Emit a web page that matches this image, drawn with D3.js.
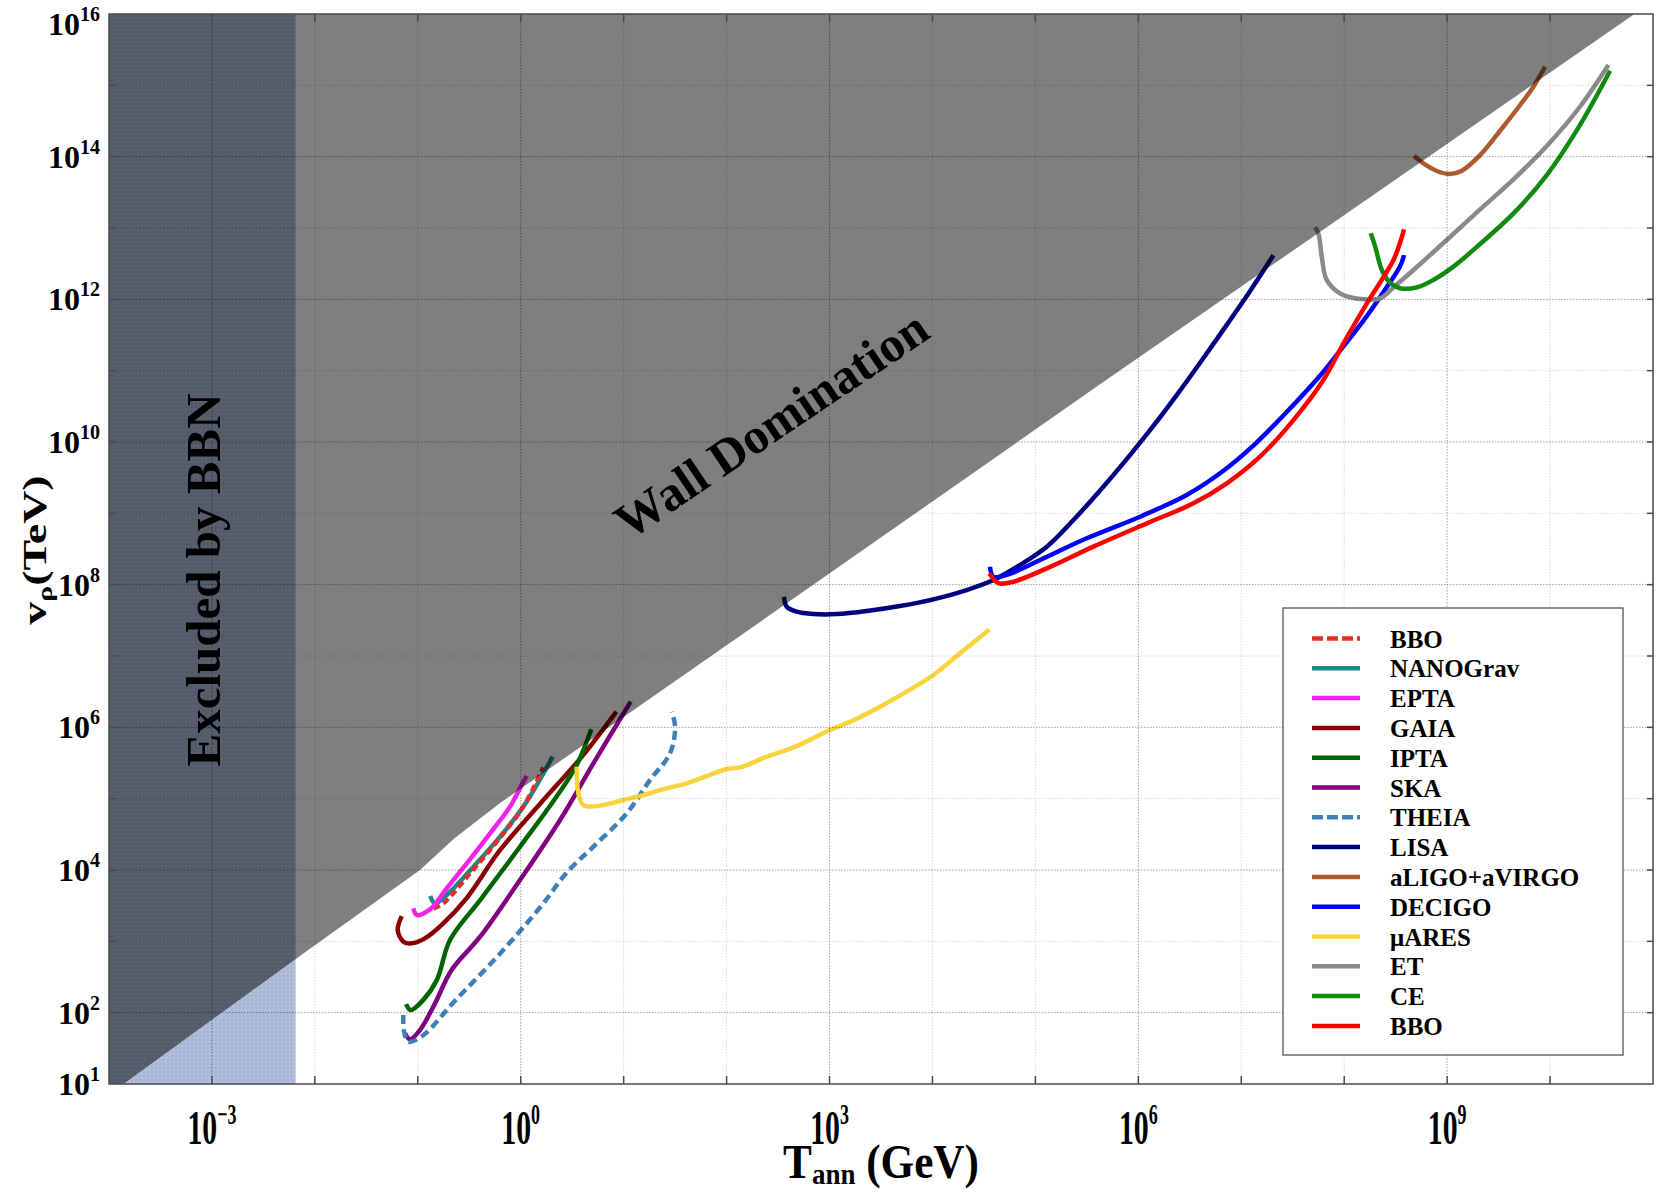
<!DOCTYPE html>
<html>
<head>
<meta charset="utf-8">
<script src="https://cdnjs.cloudflare.com/ajax/libs/d3/7.8.5/d3.min.js"></script>
<style>
  body { margin: 0; background: #fff; }
  svg text { font-family: "Liberation Serif", "Times New Roman", serif; font-weight: bold; fill: #000; }
</style>
</head>
<body>
<svg id="chart"></svg>
<script>
// detector sensitivity curves, [T_ann (GeV), v_rho (TeV)]
const nanograv = [[1.32e-1, 4.33e3], [1.47e-1, 3.41e3], [1.91e-1, 4.47e3], [3.47e-1, 1.11e4], [6.30e-1, 2.93e4], [1.14, 9.08e4], [2.04, 3.88e5]]
const bboDashed = [[1.42e-1, 2.90e3], [1.77e-1, 3.41e3], [3.21e-1, 8.97e3], [5.83e-1, 2.49e4], [1.06, 7.73e4], [1.66, 2.75e5]]
const epta = [[9.06e-2, 2.90e3], [9.75e-2, 2.34e3], [1.32e-1, 2.81e3], [1.91e-1, 5.53e3], [2.99e-1, 1.24e4], [5.04e-1, 3.27e4], [7.87e-1, 7.73e4], [1.02, 1.55e5], [1.14, 2.08e5]]
const gaia = [[6.98e-2, 2.26e3], [6.38e-2, 1.44e3], [7.24e-2, 9.89e2], [8.73e-2, 9.38e2], [1.17e-1, 1.10e3], [1.77e-1, 1.79e3], [2.97e-1, 4.01e3], [6.31e-1, 1.91e4], [1.59, 8.91e4], [3.98, 3.98e5], [8.51, 1.66e6]]
const ipta = [[7.69e-2, 132], [8.53e-2, 109], [1.13e-1, 151], [1.53e-1, 287], [2.06e-1, 1.05e3], [4.03e-1, 3.79e3], [0.984, 2.12e4], [2.23, 1.07e5], [3.50, 2.97e5], [4.85, 9.38e5]]
const ska = [[7.52e-2, 51.3], [8.39e-2, 42.3], [1.05e-1, 57.1], [1.47e-1, 135], [2.13e-1, 396], [4.03e-1, 1.16e3], [0.984, 7.24e3], [2.41, 5.02e4], [5.08, 3.13e5], [11.7, 2.29e6]]
const theia = [[7.24e-2, 92.7], [7.35e-2, 54.2], [8.13e-2, 39.2], [1.12e-1, 47.9], [2.24e-1, 141], [6.31e-1, 676], [1.59, 3.16e3], [2.82, 9.33e3], [5.08, 2.12e4], [10.7, 6.22e4], [18.0, 1.82e5], [28.2, 4.32e5], [31.6, 1.02e6], [29.3, 1.66e6]]
const lisa = [[361, 6.78e7], [384, 4.91e7], [480, 4.18e7], [697, 3.87e7], [1.18e3, 3.87e7], [2.30e3, 4.27e7], [4.84e3, 5.01e7], [1.02e4, 6.22e7], [2.15e4, 8.41e7], [3.91e4, 1.16e8], [7.10e4, 1.89e8], [1.29e5, 3.40e8], [2.34e5, 8.05e8], [4.25e5, 2.09e9], [7.71e5, 5.75e9], [1.40e6, 1.68e10], [2.36e6, 4.54e10], [3.98e6, 1.29e11], [7.23e6, 4.39e11], [1.22e7, 1.31e12], [2.05e7, 4.14e12]]
const aligo = [[4.78e8, 1.02e14], [5.89e8, 8.05e13], [7.93e8, 6.30e13], [1.07e9, 5.72e13], [1.39e9, 6.35e13], [2.09e9, 1.05e14], [3.27e9, 2.31e14], [5.12e9, 5.30e14], [6.89e9, 9.57e14], [8.93e9, 1.82e15]]
const decigo = [[3.62e4, 1.79e8], [3.91e4, 1.29e8], [5.26e4, 1.37e8], [1.11e5, 2.22e8], [3.15e5, 4.47e8], [1.04e6, 8.97e8], [2.95e6, 1.81e9], [6.22e6, 3.64e9], [1.31e7, 8.91e9], [2.76e7, 2.63e10], [5.82e7, 8.51e10], [9.12e7, 1.91e11], [1.59e8, 5.37e11], [2.40e8, 1.26e12], [3.48e8, 2.88e12], [3.82e8, 4.18e12]]
const mares = [[3.50, 2.81e5], [3.63, 1.19e5], [4.06, 8.13e4], [5.47, 7.87e4], [7.94, 8.77e4], [11.5, 1.01e5], [15.6, 1.12e5], [24.3, 1.36e5], [41.0, 1.64e5], [64.1, 2.07e5], [100, 2.60e5], [135, 2.74e5], [245, 3.87e5], [446, 5.24e5], [1.01e3, 9.16e5], [1.71e3, 1.26e6], [3.10e3, 1.95e6], [5.62e3, 3.16e6], [1.02e4, 5.41e6], [1.85e4, 1.09e7], [3.57e4, 2.36e7]]
const et = [[5.21e7, 1.02e13], [5.61e7, 8.41e12], [6.05e7, 3.96e12], [6.76e7, 1.87e12], [9.12e7, 1.21e12], [1.54e8, 1.00e12], [2.23e8, 1.03e12], [3.01e8, 1.47e12], [4.71e8, 2.58e12], [9.91e8, 6.78e12], [2.09e9, 1.82e13], [4.41e9, 4.81e13], [9.29e9, 1.41e14], [1.95e10, 5.01e14], [3.69e10, 1.93e15]]
const ce = [[1.81e8, 8.41e12], [2.00e8, 5.47e12], [2.32e8, 2.58e12], [2.79e8, 1.71e12], [3.49e8, 1.43e12], [5.07e8, 1.47e12], [7.36e8, 1.87e12], [1.15e9, 2.87e12], [2.09e9, 5.96e12], [4.41e9, 1.60e13], [9.29e9, 5.53e13], [1.95e10, 2.77e14], [3.83e10, 1.60e15]]
const bbo = [[3.57e4, 1.44e8], [4.37e4, 1.05e8], [6.11e4, 1.10e8], [1.29e5, 1.69e8], [3.66e5, 3.41e8], [1.21e6, 7.24e8], [3.43e6, 1.38e9], [7.23e6, 2.63e9], [1.52e7, 6.22e9], [3.21e7, 2.03e10], [6.28e7, 7.40e10], [1.00e8, 2.51e11], [1.66e8, 8.77e11], [3.01e8, 3.56e12], [3.55e8, 6.76e12], [3.82e8, 9.57e12]]

// excluded regions
const wallEdge = [[1.38e-4, 10], [6.46e-3, 562], [1.05e-1, 1.0e4], [2.24e-1, 2.75e4], [0.631, 8.71e4], [100, 1.41e7], [3.98e5, 6.03e10], [6.61e10, 1e16]]
const bbnLimit = 6.5e-3

// ticks
const xTickExps = [-3, 0, 3, 6, 9]
const yTickExps = [16, 14, 12, 10, 8, 6, 4, 2, 1]

const legendNames = ["BBO", "NANOGrav", "EPTA", "GAIA", "IPTA", "SKA", "THEIA", "LISA", "aLIGO+aVIRGO", "DECIGO", "\u03bcARES", "ET", "CE", "BBO"]
const legendData = [bboDashed, nanograv, epta, gaia, ipta, ska, theia, lisa, aligo, decigo, mares, et, ce, bbo]
const colors = ["#e0302c", "#178b8b", "#f522ee", "#8b0000", "#006400", "#800080", "#3f80b8", "#000080", "#ad5a30", "#0000ff", "#f9d43a", "#8a8a8a", "#108a10", "#ff0000"]
const dashes = ["7,4", null, null, null, null, null, "9,5", null, null, null, null, null, null, null]

var width = 1658,
    height = 1192,
    pl = 109, pr = 1653, pt = 14, pb = 1084

var x = d3.scaleLog().domain([1e-4, 1e11]).range([pl, pr])
var y = d3.scaleLog().domain([1e1, 1e16]).range([pb, pt])

var svg = d3.select("#chart")
    .attr("width", width)
    .attr("height", height)

var defs = svg.append("defs")
defs.append("clipPath").attr("id", "plot")
  .append("rect")
    .attr("x", pl).attr("y", pt)
    .attr("width", pr - pl).attr("height", pb - pt)

// faint dot texture of the BBN band
var pat = defs.append("pattern")
    .attr("id", "bbnDots")
    .attr("width", 4).attr("height", 4)
    .attr("patternUnits", "userSpaceOnUse")
pat.append("rect").attr("width", 4).attr("height", 4).attr("fill", "#a9b8d6")
pat.append("rect").attr("x", 1).attr("y", 1).attr("width", 1.5).attr("height", 1.5).attr("fill", "#c3cee4")

var plot = svg.append("g").attr("clip-path", "url(#plot)")

plot.append("rect")
    .attr("x", x(1e-4))
    .attr("y", pt)
    .attr("width", x(bbnLimit) - x(1e-4))
    .attr("height", pb - pt)
    .attr("fill", "url(#bbnDots)")

var line = d3.line()
  .x(d => x(d[0]))
  .y(d => y(d[1]))
  .curve(d3.curveCatmullRom.alpha(0.5))

// drawing order, teal under the red dashes
var order = [1, 0, 2, 3, 4, 5, 6, 7, 8, 9, 10, 11, 12, 13]
plot.selectAll("path.curve")
    .data(order)
  .enter().append("path")
    .attr("class", "curve")
    .attr("d", i => line(legendData[i]))
    .attr("fill", "none")
    .attr("stroke", i => colors[i])
    .attr("stroke-width", 4.5)
    .attr("stroke-dasharray", i => dashes[i])
    .attr("stroke-linejoin", "round")

// wall domination: translucent black over everything left/above the edge
var wallPoly = wallEdge.concat([[1e-4, 1e16], [1e-4, 10]])
plot.append("path")
    .attr("d", d3.line().x(d => x(d[0])).y(d => y(d[1]))(wallPoly) + "Z")
    .attr("fill", "#000")
    .attr("fill-opacity", 0.5)

// dotted grid, labelled decades darker
var gx = d3.range(-3, 11), gy = d3.range(2, 16)
plot.selectAll("line.gx")
    .data(gx)
  .enter().append("line")
    .attr("x1", d => x(Math.pow(10, d))).attr("x2", d => x(Math.pow(10, d)))
    .attr("y1", pt).attr("y2", pb)
    .attr("stroke", "#000")
    .attr("stroke-opacity", d => d % 3 == 0 ? 0.38 : 0.15)
    .attr("stroke-dasharray", "1.5,1.5")
plot.selectAll("line.gy")
    .data(gy)
  .enter().append("line")
    .attr("y1", d => y(Math.pow(10, d))).attr("y2", d => y(Math.pow(10, d)))
    .attr("x1", pl).attr("x2", pr)
    .attr("stroke", "#000")
    .attr("stroke-opacity", d => d % 2 == 0 ? 0.38 : 0.15)
    .attr("stroke-dasharray", "1.5,1.5")

// frame and inward ticks on all four sides
var axes = svg.append("g").attr("stroke", "#4a4a4a").attr("stroke-width", 1.5)
axes.append("rect")
    .attr("x", pl).attr("y", pt)
    .attr("width", pr - pl).attr("height", pb - pt)
    .attr("fill", "none")
d3.range(-3, 11).forEach(d => {
  var px = x(Math.pow(10, d))
  axes.append("line").attr("x1", px).attr("x2", px).attr("y1", pb).attr("y2", pb - 8)
  axes.append("line").attr("x1", px).attr("x2", px).attr("y1", pt).attr("y2", pt + 8)
})
d3.range(2, 16).forEach(d => {
  var py = y(Math.pow(10, d))
  axes.append("line").attr("y1", py).attr("y2", py).attr("x1", pl).attr("x2", pl + 6)
  axes.append("line").attr("y1", py).attr("y2", py).attr("x1", pr).attr("x2", pr - 6)
})

// y tick labels
yTickExps.forEach(e => {
  var t = svg.append("text")
      .attr("x", 100)
      .attr("y", y(Math.pow(10, e)) + (e == 16 ? 21 : 11))
      .attr("text-anchor", "end")
      .style("font-size", "32px")
  t.append("tspan").text("10")
  t.append("tspan").attr("dy", -14).style("font-size", "20px").text(e)
})

// x tick labels (condensed face)
xTickExps.forEach(e => {
  var g = svg.append("g")
      .attr("transform", "translate(" + x(Math.pow(10, e)) + ",1144) scale(0.62,1)")
  var t = g.append("text").attr("text-anchor", "middle").style("font-size", "48px")
  t.append("tspan").text("10")
  t.append("tspan").attr("dy", -20).style("font-size", "29px").text(e < 0 ? "\u2212" + (-e) : e)
})

// axis titles
var xt = svg.append("g").attr("transform", "translate(" + ((pl + pr) / 2) + ",1178) scale(0.9,1)")
  .append("text").attr("text-anchor", "middle").style("font-size", "48px")
xt.append("tspan").text("T")
xt.append("tspan").attr("dy", 6).style("font-size", "30px").text("ann")
xt.append("tspan").attr("dy", -6).text(" (GeV)")

var yt = svg.append("g").attr("transform", "translate(46,550) rotate(-90) scale(1.35,1)")
  .append("text").attr("text-anchor", "middle").style("font-size", "34px")
yt.append("tspan").text("v")
yt.append("tspan").attr("dy", 6).style("font-size", "22px").text("\u03c1")
yt.append("tspan").attr("dy", -6).text("(TeV)")

// region labels
svg.append("text")
    .attr("transform", "translate(220,580) rotate(-90)")
    .attr("text-anchor", "middle")
    .style("font-size", "49px")
    .text("Excluded by BBN")
svg.append("text")
    .attr("transform", "translate(771,424) rotate(-34)")
    .attr("text-anchor", "middle")
    .attr("dy", "0.35em")
    .style("font-size", "50px")
    .text("Wall Domination")

// legend
var leg = svg.append("g")
leg.append("rect")
    .attr("x", 1283).attr("y", 608)
    .attr("width", 340).attr("height", 447)
    .attr("fill", "#fff")
    .attr("stroke", "#555")
    .attr("stroke-width", 1.3)
var rows = leg.selectAll("g.row")
    .data(legendNames)
  .enter().append("g")
    .attr("class", "row")
    .attr("transform", (d, i) => "translate(0," + (638.5 + i * 29.8) + ")")
rows.append("line")
    .attr("x1", 1312).attr("x2", 1360)
    .attr("stroke", (d, i) => colors[i])
    .attr("stroke-width", 4.5)
    .attr("stroke-dasharray", (d, i) => dashes[i] ? "11,4" : null)
rows.append("text")
    .attr("x", 1390).attr("y", 9)
    .style("font-size", "25px")
    .text(d => d)
</script>
</body>
</html>
